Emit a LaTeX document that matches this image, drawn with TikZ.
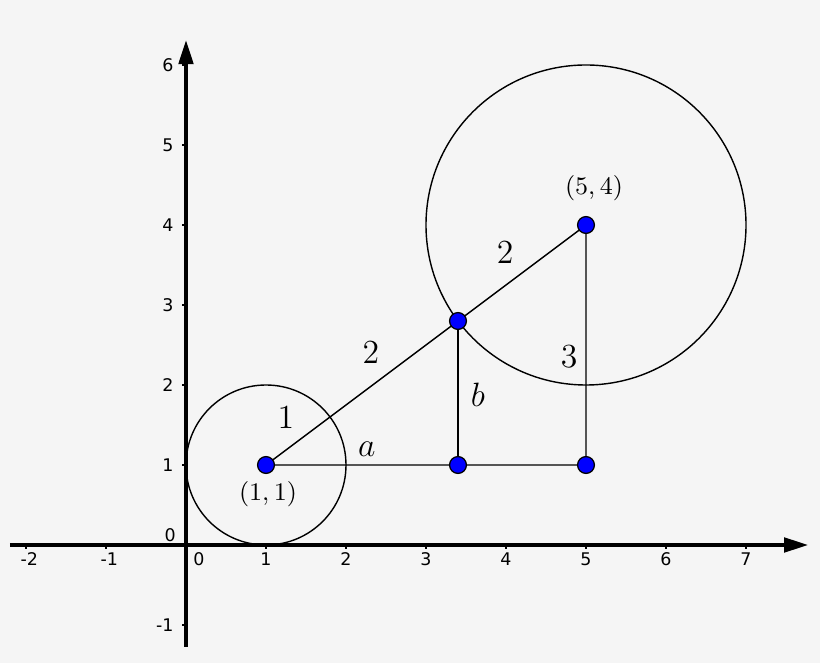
\documentclass[tikz,border=0pt]{standalone}
\usepackage{fontspec}
\newfontfamily\ticks{DejaVu Sans}
\usetikzlibrary{arrows.meta}
\definecolor{bg}{HTML}{F5F5F5}
\tikzset{
  axis/.style={line width=1.1pt,-{Triangle[length=8.5pt,width=5.2pt]}},
  seg/.style={line width=0.5pt},
  pt/.style={circle,fill=blue,draw=black,line width=0.45pt,minimum size=6pt,inner sep=0pt},
  tl/.style={font=\ticks\fontsize{6.2}{7}\selectfont,inner sep=0pt},
  lab/.style={font=\fontsize{11.5}{13}\selectfont,inner sep=0pt},
  clab/.style={font=\fontsize{9.3}{11}\selectfont,inner sep=0pt}
}
\begin{document}
\begin{tikzpicture}
\useasboundingbox[fill=bg] (-2.325,-1.475) rectangle (7.925,6.8125);
% axes
\draw[axis] (-2.2,0) -- (7.775,0);
\draw[axis] (0,-1.275) -- (0,6.31);
% ticks
\foreach \x in {-2,-1,1,2,3,4,5,6,7} \draw[line width=0.8pt] (\x,0) -- (\x,-0.05);
\foreach \y in {-1,1,2,3,4,5,6} \draw[line width=0.8pt] (0,\y) -- (-0.05,\y);
\foreach \x/\t in {1/1,2/2,3/3,4/4,5/5,6/6,7/7} \node[tl] at (\x,-0.175) {\t};
\foreach \x/\t in {-2/-2,-1/-1} \node[tl] at (\x+0.04,-0.175) {\t};
\node[tl] at (0.16,-0.175) {0};
\foreach \y/\t in {-1/-1,1/1,2/2,3/3,4/4,5/5,6/6} \node[tl,anchor=east] at (-0.15,\y) {\t};
\node[tl,anchor=east] at (-0.12,0.12) {0};
% circles
\draw[seg] (1,1) circle (1);
\draw[seg] (5,4) circle (2);
% points
\coordinate (A) at (1,1);
\coordinate (B) at (5,4);
\coordinate (P) at (3.4,2.8);
\coordinate (Q) at (3.4,1);
\coordinate (R) at (5,1);
\draw[seg] (A) -- (B) -- (R) -- (A);
\draw[seg] (P) -- (Q);
\node[pt] (nA) at (A) {};
\node[pt] (nB) at (B) {};
\node[pt] (nP) at (P) {};
\node[pt] (nQ) at (Q) {};
\node[pt] (nR) at (R) {};
% labels
\node[clab] (l1) at (5.1,4.46) {$(5,4)$};
\node[clab] (l2) at (1.025,0.64) {$(1,1)$};
\node[lab] (l3) at (3.99,3.66) {$2$};
\node[lab] (l4) at (2.31,2.41) {$2$};
\node[lab] (l5) at (1.25,1.59) {$1$};
\node[lab] (l6) at (2.26,1.2) {$a$};
\node[lab] (l7) at (3.65,1.875) {$b$};
\node[lab] (l8) at (4.79,2.35) {$3$};
\end{tikzpicture}
\end{document}
